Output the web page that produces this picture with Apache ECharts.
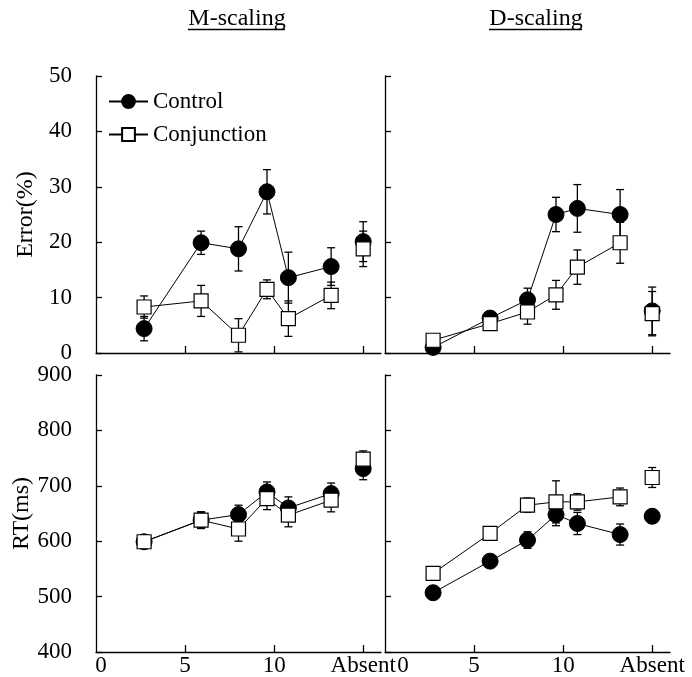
<!DOCTYPE html>
<html>
<head>
<meta charset="utf-8">
<script src="https://cdn.jsdelivr.net/npm/echarts@6/dist/echarts.min.js"></script>
<style>
  html, body { margin: 0; padding: 0; background: #fff; }
  #main { width: 692px; height: 677px; }
</style>
</head>
<body>
<div id="main"></div>
<script>
(function(window, document, undefined){

  // set sizes (x positions) and the separate "Absent" condition
  var setSizes = [2.7, 5.9, 8.0, 9.6, 10.8, 13.2];
  var absentX = 15;
  var xTickValues = [5, 10, 15];
  var xLabelValues = [0, 5, 10, 15];

  // Error (%) - M-scaling
  var mErrControl = [4.4, 19.9, 18.8, 29.1, 13.6, 15.6];
  var mErrControlSE = [2.2, 2.1, 4.0, 4.0, 4.6, 3.4];
  var mErrConj = [8.3, 9.4, 3.2, 11.5, 6.2, 10.4];
  var mErrConjSE = [2.0, 2.8, 3.0, 1.7, 3.2, 2.4];
  var mErrAbsent = [20.1, 18.8];      // control, conjunction
  var mErrAbsentSE = [3.6, 3.2];

  // Error (%) - D-scaling
  var dErrControl = [1.0, 6.3, 9.6, 25.0, 26.1, 25.0];
  var dErrControlSE = [0.8, 0.8, 2.1, 3.1, 4.3, 4.5];
  var dErrConj = [2.3, 5.3, 7.4, 10.5, 15.5, 19.9];
  var dErrConjSE = [0.5, 0.7, 2.2, 2.6, 3.1, 3.7];
  var dErrAbsent = [7.6, 7.1];
  var dErrAbsentSE = [4.3, 4.0];

  // RT (ms) - M-scaling
  var mRtControl = [599, 638, 648, 689, 660, 686];
  var mRtControlSE = [8, 15, 17, 18, 20, 19];
  var mRtConj = [599, 638, 622, 677, 647, 674];
  var mRtConjSE = [8, 15, 22, 20, 21, 21];
  var mRtAbsent = [731, 748];
  var mRtAbsentSE = [20, 15];

  // RT (ms) - D-scaling
  var dRtControl = [507, 564, 602, 648, 632, 612];
  var dRtControlSE = [5, 5, 15, 20, 20, 19];
  var dRtConj = [542, 614, 665, 671, 671, 680];
  var dRtConjSE = [5, 5, 13, 38, 15, 16];
  var dRtAbsent = [645, 715];
  var dRtAbsentSE = [5, 18];

  var FONT = 'Liberation Serif';
  var INK = '#000';

  function pairs(ys) {
    return ys.map(function(y, i){ return [setSizes[i], y]; });
  }
  function bars(ys, se) {
    return ys.map(function(y, i){ return [setSizes[i], y - se[i], y + se[i]]; });
  }

  function errorBars(gi, data) {
    return {
      type: 'custom',
      xAxisIndex: gi, yAxisIndex: gi,
      z: 1,
      silent: true,
      data: data,
      renderItem: function(params, api) {
        var lo = api.coord([api.value(0), api.value(1)]);
        var hi = api.coord([api.value(0), api.value(2)]);
        var cap = 4;
        var st = { stroke: INK, lineWidth: 1.3 };
        return {
          type: 'group',
          children: [
            { type: 'line', shape: { x1: lo[0], y1: lo[1], x2: hi[0], y2: hi[1] }, style: st },
            { type: 'line', shape: { x1: lo[0] - cap, y1: lo[1], x2: lo[0] + cap, y2: lo[1] }, style: st },
            { type: 'line', shape: { x1: hi[0] - cap, y1: hi[1], x2: hi[0] + cap, y2: hi[1] }, style: st }
          ]
        };
      }
    };
  }

  var circleStyle = { color: INK, borderColor: INK, borderWidth: 1, opacity: 1 };
  var squareStyle = { color: '#fff', borderColor: INK, borderWidth: 1.2, opacity: 1 };

  function panel(gi, ctrl, ctrlSE, conj, conjSE, absent, absentSE) {
    return [
      errorBars(gi, bars(ctrl, ctrlSE).concat([[absentX, absent[0] - absentSE[0], absent[0] + absentSE[0]]])),
      errorBars(gi, bars(conj, conjSE).concat([[absentX, absent[1] - absentSE[1], absent[1] + absentSE[1]]])),
      {
        name: 'Control', type: 'line', xAxisIndex: gi, yAxisIndex: gi, z: 2,
        data: pairs(ctrl), symbol: 'circle', symbolSize: 16,
        lineStyle: { color: INK, width: 1 }, itemStyle: circleStyle
      },
      {
        name: 'Control ', type: 'scatter', xAxisIndex: gi, yAxisIndex: gi, z: 2,
        data: [[absentX, absent[0]]], symbol: 'circle', symbolSize: 16, itemStyle: circleStyle
      },
      {
        name: 'Conjunction', type: 'line', xAxisIndex: gi, yAxisIndex: gi, z: 3,
        data: pairs(conj), symbol: 'rect', symbolSize: 14,
        lineStyle: { color: INK, width: 1 }, itemStyle: squareStyle
      },
      {
        name: 'Conjunction ', type: 'scatter', xAxisIndex: gi, yAxisIndex: gi, z: 3,
        data: [[absentX, absent[1]]], symbol: 'rect', symbolSize: 14, itemStyle: squareStyle
      }
    ];
  }

  var grids = [
    { left: 96, top: 76, width: 285, height: 277 },
    { left: 385, top: 76, width: 285, height: 277 },
    { left: 96, top: 375, width: 285, height: 277 },
    { left: 385, top: 375, width: 285, height: 277 }
  ];

  var axisLine = { show: true, lineStyle: { color: INK, width: 1.3 } };
  var zeroShift = [10, 36];   // nudge of the "0" label, left / right panel

  var xAxes = grids.map(function(g, i){
    var bottom = i >= 2;
    return {
      type: 'value', gridIndex: i, min: 0, max: 16, interval: 5,
      axisLine: axisLine,
      splitLine: { show: false },
      axisTick: { show: true, inside: true, length: 7, customValues: xTickValues,
                  lineStyle: { color: INK, width: 1.3 } },
      axisLabel: {
        show: bottom, customValues: xLabelValues, margin: 2,
        fontFamily: FONT, fontSize: 23, color: INK,
        formatter: function(v){
          if (v === 15) return 'Absent';
          if (v === 0) return '{z|0}';
          return String(v);
        },
        rich: { z: { fontFamily: FONT, fontSize: 23, color: INK, padding: [0, 0, 0, zeroShift[i % 2]] } }
      }
    };
  });

  var yAxes = grids.map(function(g, i){
    var top = i < 2, left = i % 2 === 0;
    return {
      type: 'value', gridIndex: i,
      min: top ? 0 : 400, max: top ? 50 : 900, interval: top ? 10 : 100,
      axisLine: axisLine,
      splitLine: { show: false },
      axisTick: { show: true, inside: true, length: 6, lineStyle: { color: INK, width: 1.3 } },
      axisLabel: { show: left, margin: 24, fontFamily: FONT, fontSize: 23, color: INK,
                   padding: [9, 0, 0, 0] },
      name: left ? (top ? 'Error(%)' : 'RT(ms)') : '',
      nameLocation: 'middle', nameGap: 58, nameRotate: 90,
      nameTextStyle: { fontFamily: FONT, fontSize: 24, color: INK }
    };
  });

  var series = []
    .concat(panel(0, mErrControl, mErrControlSE, mErrConj, mErrConjSE, mErrAbsent, mErrAbsentSE))
    .concat(panel(1, dErrControl, dErrControlSE, dErrConj, dErrConjSE, dErrAbsent, dErrAbsentSE))
    .concat(panel(2, mRtControl, mRtControlSE, mRtConj, mRtConjSE, mRtAbsent, mRtAbsentSE))
    .concat(panel(3, dRtControl, dRtControlSE, dRtConj, dRtConjSE, dRtAbsent, dRtAbsentSE));

  var titleStyle = { fontFamily: FONT, fontSize: 24, fontWeight: 'normal', color: INK };

  var option = {
    animation: false,
    backgroundColor: '#fff',
    title: [
      { text: 'M-scaling', left: 232, top: 2, textAlign: 'center', textStyle: titleStyle },
      { text: 'D-scaling', left: 531, top: 2, textAlign: 'center', textStyle: titleStyle }
    ],
    graphic: [
      { type: 'line', shape: { x1: 188, y1: 29.5, x2: 285, y2: 29.5 }, style: { stroke: INK, lineWidth: 1.5 } },
      { type: 'line', shape: { x1: 489, y1: 29.5, x2: 582, y2: 29.5 }, style: { stroke: INK, lineWidth: 1.5 } }
    ],
    legend: {
      data: ['Control', 'Conjunction'],
      orient: 'vertical', left: 103, top: 85,
      itemWidth: 39, itemHeight: 16, itemGap: 10,
      selectedMode: false,
      textStyle: { fontFamily: FONT, fontSize: 23, color: INK }
    },
    grid: grids,
    xAxis: xAxes,
    yAxis: yAxes,
    series: series
  };

  var chart = echarts.init(document.getElementById('main'));
  chart.setOption(option);

})(window, document);
</script>
</body>
</html>
